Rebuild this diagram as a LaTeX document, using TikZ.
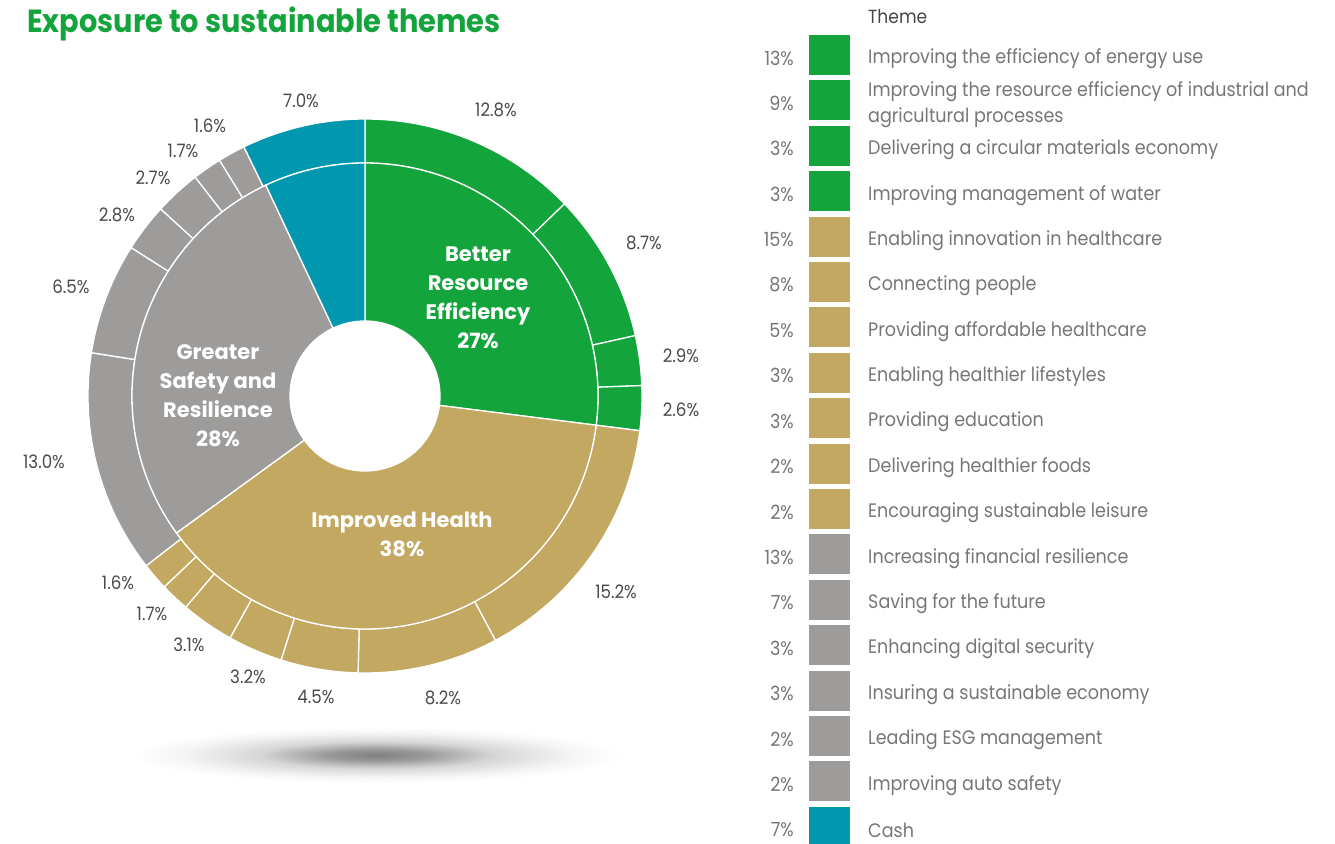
\documentclass[tikz,border=0pt]{standalone}
\usepackage{fontspec}
\setmainfont{Poppins}
\newfontfamily\narrowfont{Poppins}[FakeStretch=0.9]
\definecolor{cgreen}{HTML}{14A43C}
\definecolor{ctan}{HTML}{C2A861}
\definecolor{cgray}{HTML}{9D9C9B}
\definecolor{cteal}{HTML}{0097AF}
\definecolor{ctext}{HTML}{767676}
\definecolor{clabel}{HTML}{4A4A4A}
\pgfdeclareradialshading{pieshadow}{\pgfpoint{0bp}{0bp}}{color(0bp)=(black!50); color(5bp)=(black!40); color(12bp)=(black!16); color(20bp)=(black!4); color(25bp)=(white); color(50bp)=(white)}
\tikzset{
  seg/.style={fill=#1, draw=white, line width=1.3pt},
  pct/.style={text=clabel, font=\narrowfont\fontsize{18.5}{20}\selectfont, inner sep=0pt},
  inlab/.style={text=white, align=center, font=\bfseries\fontsize{21}{29}\selectfont, inner sep=0pt},
  legtxt/.style={anchor=west, text=ctext, align=left, font=\narrowfont\fontsize{19.5}{26}\selectfont, inner sep=0pt},
  legpct/.style={anchor=east, text=ctext, font=\narrowfont\fontsize{19.5}{22}\selectfont, inner sep=0pt},
  swatch/.style={fill=#1, draw=none}
}
\begin{document}
\begin{tikzpicture}[x=1pt,y=-1pt]
\useasboundingbox (0,0) rectangle (1335,843);
% title
\node[anchor=west, text=cgreen, font=\narrowfont\bfseries\fontsize{32}{36}\selectfont, inner sep=0pt] (title) at (27,24) {Exposure to sustainable themes};
% shadow
\shade[shading=pieshadow] (377,755) ellipse [x radius=245, y radius=28];
% pie
\begin{scope}[shift={(365,396)}, yscale=-1]
\foreach \s/\e/\c in {0/12.8/cgreen, 12.8/21.5/cgreen, 21.5/24.4/cgreen, 24.4/27.0/cgreen,
  27.0/42.2/ctan, 42.2/50.4/ctan, 50.4/54.9/ctan, 54.9/58.1/ctan, 58.1/61.2/ctan, 61.2/62.9/ctan, 62.9/64.5/ctan,
  64.5/77.5/cgray, 77.5/84.0/cgray, 84.0/86.8/cgray, 86.8/89.5/cgray, 89.5/91.2/cgray, 91.2/92.8/cgray,
  92.8/100/cteal}{
  \pgfmathsetmacro\aa{90-3.6*\s}
  \pgfmathsetmacro\bb{90-3.6*\e}
  \path[seg=\c] (\aa:277) arc[start angle=\aa, end angle=\bb, radius=277] -- (\bb:233) arc[start angle=\bb, end angle=\aa, radius=233] -- cycle;
}
\foreach \s/\e/\c in {0/27/cgreen, 27/65/ctan, 65/93/cgray, 93/100/cteal}{
  \pgfmathsetmacro\aa{90-3.6*\s}
  \pgfmathsetmacro\bb{90-3.6*\e}
  \path[seg=\c] (\aa:233) arc[start angle=\aa, end angle=\bb, radius=233] -- (\bb:75) arc[start angle=\bb, end angle=\aa, radius=75] -- cycle;
}
\end{scope}
% inner labels
\node[inlab] (bre) at (478,298) {Better\\Resource\\Efficiency\\27\%};
\node[inlab] (gsr) at (218,396) {Greater\\Safety and\\Resilience\\28\%};
\node[inlab] (ih) at (402,534) {Improved Health\\38\%};
% outer labels
\foreach \x/\y/\t [count=\k] in {301/101/7.0, 496/110/12.8, 644/243/8.7, 681/356/2.9, 681/410/2.6,
  616/592/15.2, 443/698/8.2, 316/697/4.5, 248/677/3.2, 189/645/3.1, 152/614/1.7, 118/583/1.6,
  44/462/13.0, 71/287/6.5, 117/215/2.8, 153/178/2.7, 183/151/1.7, 210/126/1.6}{
  \node[pct] (ol\k) at (\x,\y) {\t\%};
}
% legend
\node[anchor=west, text=black!72, font=\narrowfont\fontsize{19}{22}\selectfont, inner sep=0pt] (theme) at (868,17) {Theme};
\foreach \p/\t/\c [count=\i from 0] in {
  13/{Improving the efficiency of energy use}/cgreen,
  9/{Improving the resource efficiency of industrial and\\agricultural processes}/cgreen,
  3/{Delivering a circular materials economy}/cgreen,
  3/{Improving management of water}/cgreen,
  15/{Enabling innovation in healthcare}/ctan,
  8/{Connecting people}/ctan,
  5/{Providing affordable healthcare}/ctan,
  3/{Enabling healthier lifestyles}/ctan,
  3/{Providing education}/ctan,
  2/{Delivering healthier foods}/ctan,
  2/{Encouraging sustainable leisure}/ctan,
  13/{Increasing financial resilience}/cgray,
  7/{Saving for the future}/cgray,
  3/{Enhancing digital security}/cgray,
  3/{Insuring a sustainable economy}/cgray,
  2/{Leading ESG management}/cgray,
  2/{Improving auto safety}/cgray,
  7/{Cash}/cteal}{
  \pgfmathsetmacro\ty{35+45.4*\i}
  \fill[swatch=\c] (809,\ty) rectangle (850,\ty+40);
  \node[legpct] (lp\i) at (794,\ty+23) {\p\%};
  \node[legtxt] (lt\i) at (868,\ty+24) {\t};
}
\end{tikzpicture}
\end{document}
